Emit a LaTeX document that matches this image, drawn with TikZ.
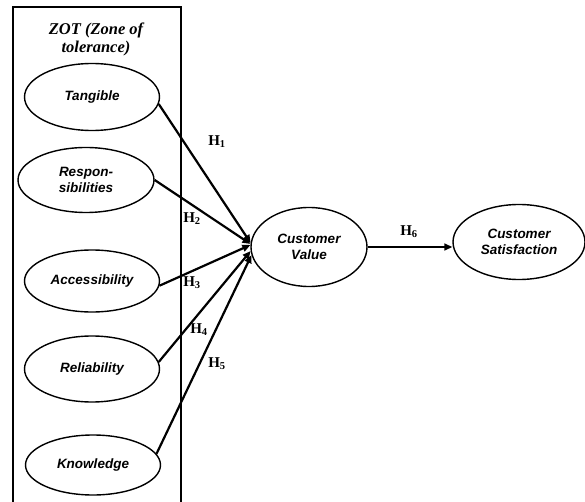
\documentclass[tikz,border=0pt]{standalone}
\usepackage{fontspec}
\setmainfont{Liberation Serif}
\newfontfamily\arialfont{Liberation Sans}
\usetikzlibrary{arrows.meta}
\usetikzlibrary{positioning}
\usetikzlibrary{shapes.geometric}

\begin{document}
\begin{tikzpicture}[%
            x=1pt,y=-1pt,
            construct/.style={%
              ellipse,
              draw,
              line width=1.4pt,
              inner sep=0pt,
              align=center,
              font=\arialfont\bfseries\itshape\fontsize{13.5}{16}\selectfont,
            },
            link/.style={line width=2.2pt,-{Triangle[length=8pt,width=7pt]}},
            hyp/.style={inner sep=0pt,font=\bfseries\fontsize{15}{17}\selectfont},
          ]
            \useasboundingbox (0,0) rectangle (585,502);
            % zone of tolerance frame
            \draw [line width=1.5pt] (13,7) rectangle (181,510);
            \node [%
              align=center,
              font=\bfseries\itshape\fontsize{16.5}{18}\selectfont,
            ] (zot) at (96,39) {ZOT (Zone of\\tolerance)};

            \node [construct,minimum width=135pt,minimum height=67pt] (tangible) at (92,97) {Tangible};
            \node [construct,minimum width=136pt,minimum height=65pt] (respons) at (86,180) {Respon-\\sibilities};
            \node [construct,minimum width=135pt,minimum height=62pt] (access) at (92,281) {Accessibility};
            \node [construct,minimum width=135pt,minimum height=66pt] (reliab) at (92,369) {Reliability};
            \node [construct,minimum width=135pt,minimum height=60pt] (knowledge) at (93,465) {Knowledge};

            \node [construct,minimum width=116pt,minimum height=79pt] (value) at (309,247) {Customer\\Value};
            \node [construct,minimum width=132pt,minimum height=75pt] (satisf) at (519,242) {Customer\\Satisfaction};

            \draw [link] (tangible.-6) -- (value.176);
            \draw [link] (respons.east) -- (value.177);
            \draw [link] (access.-4) -- (value.178);
            \draw [link] (reliab.6) -- (value.184);
            \draw [link] (knowledge.10) -- (value.188);
            \draw [link,line width=1.6pt] (value.east) -- (value.east -| satisf.west);

            \node [hyp] (h1) at (217,142) {H\textsubscript{1}};
            \node [hyp] (h2) at (192,219) {H\textsubscript{2}};
            \node [hyp] (h3) at (192,283) {H\textsubscript{3}};
            \node [hyp] (h4) at (199,330) {H\textsubscript{4}};
            \node [hyp] (h5) at (217,364) {H\textsubscript{5}};
            \node [hyp] (h6) at (409,232) {H\textsubscript{6}};
          \end{tikzpicture}
\end{document}
